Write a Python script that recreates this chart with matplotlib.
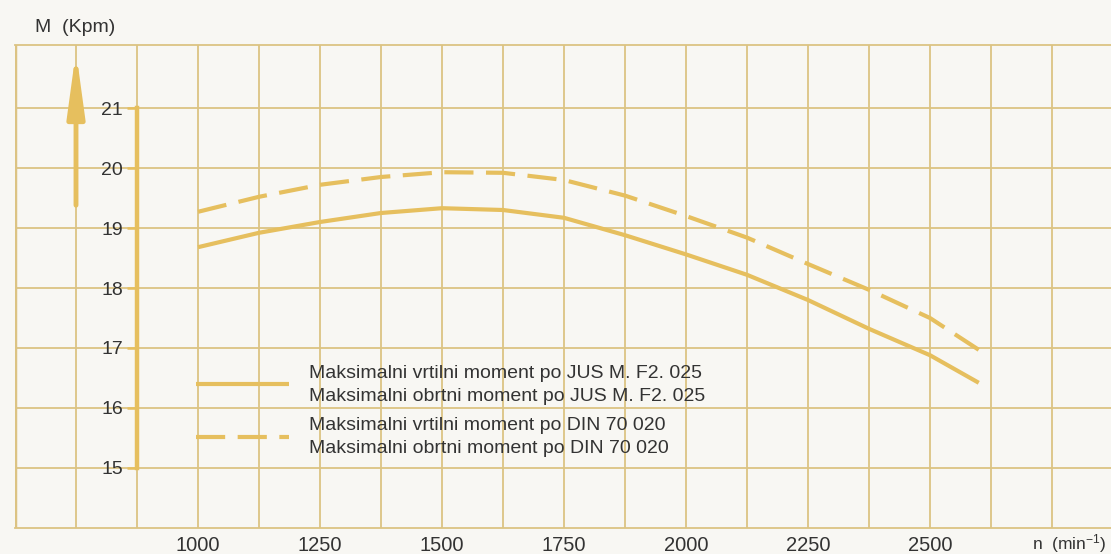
import numpy as np
import matplotlib
matplotlib.use("Agg")
import matplotlib.pyplot as plt

# engine speed (min^-1) and max torque (Kpm)
rpm = [1000, 1125, 1250, 1375, 1500, 1625, 1750, 1875, 2000, 2125, 2250, 2375, 2500, 2600]
torque_jus = [18.68, 18.92, 19.10, 19.25, 19.33, 19.30, 19.17, 18.88, 18.56, 18.22, 17.80, 17.32, 16.88, 16.42]
torque_din = [19.27, 19.52, 19.72, 19.85, 19.93, 19.92, 19.80, 19.54, 19.20, 18.84, 18.40, 17.97, 17.50, 16.97]

x_ticks = [1000, 1250, 1500, 1750, 2000, 2250, 2500]
y_ticks = [15, 16, 17, 18, 19, 20, 21]

label_jus = "Maksimalni vrtilni moment po JUS M. F2. 025\nMaksimalni obrtni moment po JUS M. F2. 025"
label_din = "Maksimalni vrtilni moment po DIN 70 020\nMaksimalni obrtni moment po DIN 70 020"

bg = "#f8f7f3"
grid_col = "#dcc383"
line_col = "#e6bf5e"
text_col = "#333333"

plt.rcParams["font.family"] = ["Liberation Sans", "DejaVu Sans"]
plt.rcParams["mathtext.default"] = "regular"

fig = plt.figure(figsize=(11.11, 5.54), dpi=100)
fig.patch.set_facecolor(bg)
ax = fig.add_axes([15 / 1111, 26 / 554, 1096 / 1111, 483 / 554])
ax.set_facecolor(bg)

ax.set_xlim(625, 2871)
ax.set_ylim(14, 22.05)

# graph paper grid
ax.set_xticks(np.arange(750, 2871, 125), minor=True)
ax.set_xticks(x_ticks)
ax.set_xticklabels([str(v) for v in x_ticks])
ax.grid(True, which="both", axis="x", color=grid_col, lw=1.3)
ax.set_yticks(y_ticks)
ax.grid(True, which="major", axis="y", color=grid_col, lw=1.3)
ax.tick_params(axis="x", which="both", length=0, pad=6, labelsize=14.5, labelcolor=text_col)
ax.axvline(625, color=grid_col, lw=2.5)

for s in ["top", "bottom"]:
    ax.spines[s].set_color(grid_col)
    ax.spines[s].set_linewidth(1.3)
ax.spines["right"].set_visible(False)

# torque axis sits inside the grid
ax.spines["left"].set_position(("data", 875))
ax.spines["left"].set_bounds(15, 21)
ax.spines["left"].set_color(line_col)
ax.spines["left"].set_linewidth(3.2)
ax.tick_params(axis="y", direction="out", length=7, width=1.8, color=line_col,
               pad=3, labelsize=14, labelcolor=text_col)

# curves
ax.plot(rpm, torque_jus, color=line_col, lw=3, solid_capstyle="butt",
        solid_joinstyle="round", label=label_jus)
ax.plot(rpm, torque_din, color=line_col, lw=3, dashes=(7, 3), label=label_din)

# upward arrow next to the axis
ax.annotate("", xy=(750, 21.95), xytext=(750, 19.38),
            arrowprops=dict(arrowstyle="-|>,head_length=1.9,head_width=0.26",
                            mutation_scale=20, lw=3.5, color=line_col, shrinkA=0, shrinkB=0))

leg = ax.legend(loc="upper left", bbox_to_anchor=(996, 16.72), bbox_transform=ax.transData,
                frameon=False, handlelength=4.8, handletextpad=1.0,
                labelspacing=0.65, borderpad=0, borderaxespad=0,
                prop={"size": 14})
for t in leg.get_texts():
    t.set_color(text_col)
    t.set_linespacing(1.45)

fig.text(35 / 1111, 1 - 27 / 554, "M  (Kpm)", fontsize=14, color=text_col, va="center")
ax.text(2862, -0.033, "n  (min$^{-1}$)", transform=ax.get_xaxis_transform(),
        fontsize=12.5, color=text_col, ha="right", va="center")

fig.savefig("out.png", dpi=100, facecolor=bg)
